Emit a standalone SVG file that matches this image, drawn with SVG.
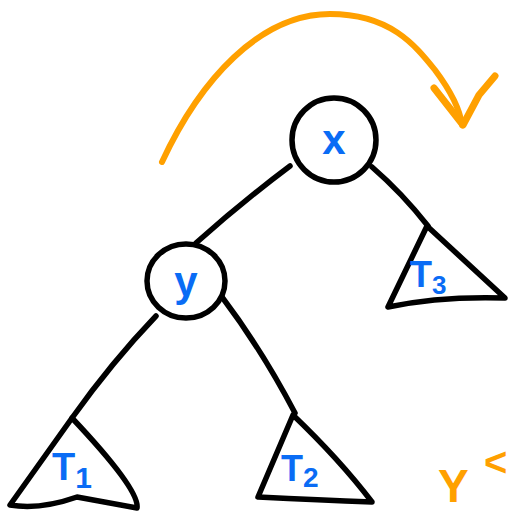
<svg xmlns="http://www.w3.org/2000/svg" width="510" height="513" viewBox="0 0 510 513">
<style>
.ln{fill:none;stroke:#000;stroke-width:5.5;stroke-linecap:round;stroke-linejoin:round}
.nd{fill:#fff;stroke:#000;stroke-width:5.5}
.lb{fill:#0a6cf5;font-family:"Liberation Sans",Arial,sans-serif;font-weight:bold}
.or{fill:none;stroke:#ffa000;stroke-width:6;stroke-linecap:round;stroke-linejoin:round}
.ot{fill:#ffa000;font-family:"Liberation Sans",Arial,sans-serif;font-weight:bold}
</style>
<rect width="510" height="513" fill="#fff"/>
<g id="connectors">
<path class="ln" d="M290,166 Q242,202 196,243"/>
<path class="ln" d="M372,167 Q402,193 428,226"/>
<path class="ln" d="M156,316 Q112,362 72,418"/>
<path class="ln" d="M222,297 Q262,350 295,413"/>
</g>
<g id="rotation-arrow">
<path class="or" d="M162,162 C200,80 260,14 330,14 C390,14 415,45 435,70 C450,90 460,110 462,125"/>
<path class="or" d="M434,88 L463,125 L479,95 L495,76" style="stroke-width:7"/>
</g>
<g id="node-x">
<ellipse class="nd" cx="334" cy="140" rx="42" ry="42"/>
<text class="lb" x="334" y="154" font-size="42" text-anchor="middle">x</text>
</g>
<g id="node-y">
<ellipse class="nd" cx="186" cy="281" rx="39" ry="37"/>
<text class="lb" x="186" y="296" font-size="42" text-anchor="middle">y</text>
</g>
<g id="tree-T3">
<path class="ln" d="M427,226 L388,307 Q440,296 505,298 Z"/>
<text class="lb" x="410" y="287" font-size="36">T<tspan font-size="26" dy="7">3</tspan></text>
</g>
<g id="tree-T1">
<path class="ln" d="M72,418 L10,505 Q40,510 77,497 Q105,502 137,508 Q140,490 72,418 Z"/>
<text class="lb" x="52" y="480" font-size="38">T<tspan font-size="30" dy="8">1</tspan></text>
</g>
<g id="tree-T2">
<path class="ln" d="M293,415 L258,497 Q320,500 372,502 Q340,460 293,415 Z"/>
<text class="lb" x="281" y="481" font-size="36">T<tspan font-size="28" dy="6">2</tspan></text>
</g>
<g id="partial-text">
<text class="ot" x="438" y="502" font-size="46">Y</text>
<text class="ot" x="484" y="476" font-size="40">&lt;</text>
</g>
</svg>
